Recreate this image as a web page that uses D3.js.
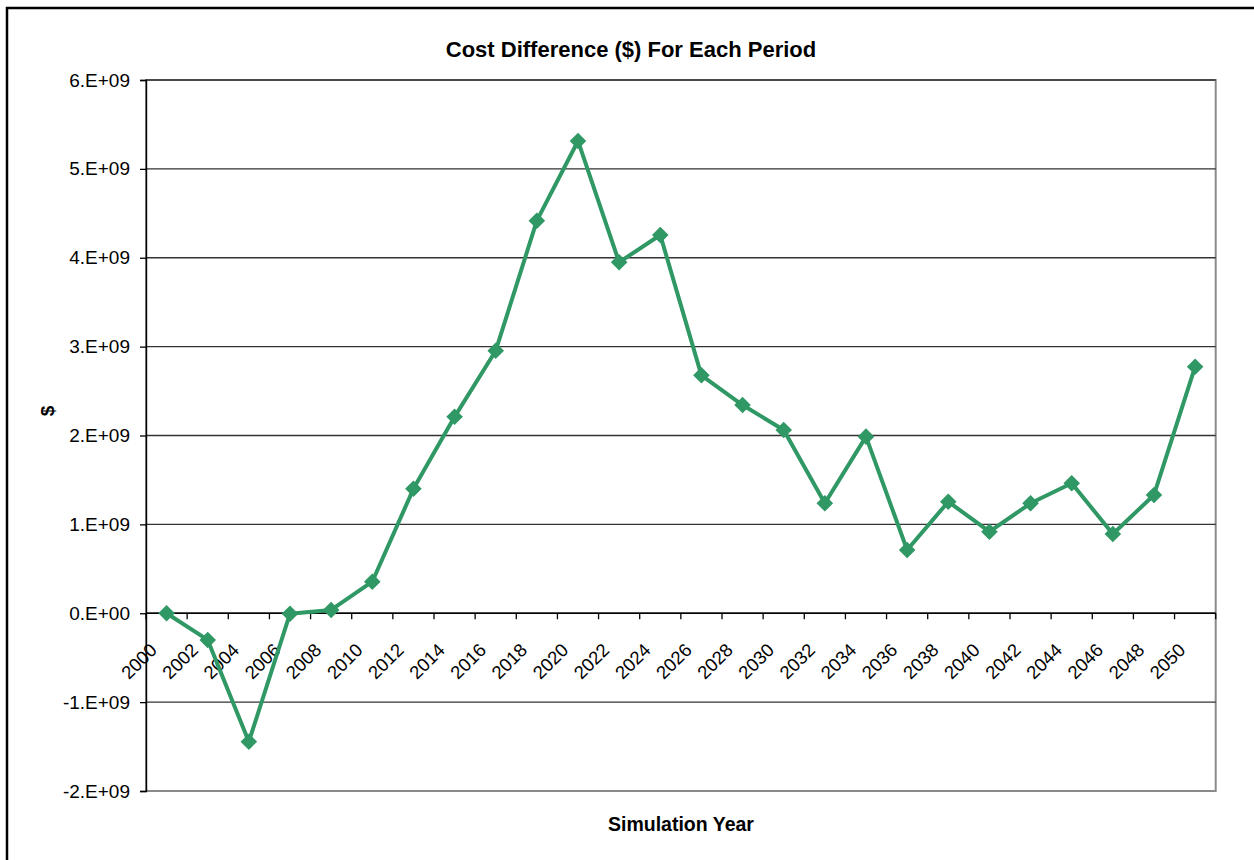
<!DOCTYPE html>
<html>
<head>
<meta charset="utf-8">
<script src="https://cdn.jsdelivr.net/npm/d3@7"></script>
<style>
  html, body { margin: 0; padding: 0; background: #fff; }
  svg { display: block; font-family: "Liberation Sans", Arial, sans-serif; }
</style>
</head>
<body>
<svg id="chart" width="1254" height="860"></svg>
<script>
// Simulation years (category axis)
const years = ["2000","2002","2004","2006","2008","2010","2012","2014","2016","2018",
               "2020","2022","2024","2026","2028","2030","2032","2034","2036","2038",
               "2040","2042","2044","2046","2048","2050"];

// Cost difference per period, in dollars
const costDiff = [0, -0.30e9, -1.445e9, -0.005e9, 0.037e9, 0.355e9, 1.40e9, 2.21e9, 2.954e9, 4.417e9,
                  5.314e9, 3.949e9, 4.256e9, 2.677e9, 2.343e9, 2.062e9, 1.237e9, 1.987e9, 0.712e9, 1.255e9,
                  0.918e9, 1.237e9, 1.462e9, 0.892e9, 1.331e9, 2.774e9];

// Value axis ticks
const yTicks = [-2e9, -1e9, 0, 1e9, 2e9, 3e9, 4e9, 5e9, 6e9];
const yTickLabels = ["-2.E+09","-1.E+09","0.E+00","1.E+09","2.E+09","3.E+09","4.E+09","5.E+09","6.E+09"];

const titleText = "Cost Difference ($) For Each Period";
const xTitle = "Simulation Year";
const yTitle = "$";

const svg = d3.select("#chart");
const plot = { left: 146, right: 1215.7, top: 80, bottom: 791 };
const green = "#2f9865";

// Outer chart frame (extends past the right and bottom of the view)
svg.append("rect")
  .attr("x", 7).attr("y", 8).attr("width", 1400).attr("height", 1000)
  .attr("fill", "#fff").attr("stroke", "#000").attr("stroke-width", 2.5);

const x = d3.scaleBand().domain(years).range([plot.left, plot.right]).paddingInner(0).paddingOuter(0);
const y = d3.scaleLinear().domain([-2e9, 6e9]).range([plot.bottom, plot.top]);
const bw = x.bandwidth();
const cx = d => x(d) + bw / 2;

// Plot area border
svg.append("rect")
  .attr("x", plot.left).attr("y", plot.top)
  .attr("width", plot.right - plot.left).attr("height", plot.bottom - plot.top)
  .attr("fill", "none").attr("stroke", "#8a8a8a").attr("stroke-width", 2);

// Horizontal gridlines
svg.append("g").selectAll("line").data(yTicks.filter(v => v !== -2e9)).join("line")
  .attr("x1", plot.left).attr("x2", plot.right)
  .attr("y1", d => y(d)).attr("y2", d => y(d))
  .attr("stroke", "#333").attr("stroke-width", 1.3);

// Value axis
const yAxis = d3.axisLeft(y).tickValues(yTicks).tickSize(6).tickPadding(10)
  .tickFormat((d, i) => yTickLabels[i]);
const gy = svg.append("g").attr("transform", `translate(${plot.left},0)`).call(yAxis);
gy.select(".domain").attr("stroke", "#000").attr("stroke-width", 1.4);
gy.selectAll(".tick line").attr("stroke", "#000").attr("stroke-width", 1.3);
gy.selectAll(".tick text").attr("font-size", 19).attr("fill", "#000")
  .attr("font-family", "'Liberation Sans', Arial, sans-serif");

// Category axis at zero, ticks between categories
const y0 = y(0);
const gx = svg.append("g");
gx.append("line").attr("x1", plot.left).attr("x2", plot.right)
  .attr("y1", y0).attr("y2", y0).attr("stroke", "#000").attr("stroke-width", 1.4);
gx.selectAll("line.tk").data(years.concat(["end"])).join("line").attr("class", "tk")
  .attr("x1", d => d === "end" ? x.range()[1] : x(d))
  .attr("x2", d => d === "end" ? x.range()[1] : x(d))
  .attr("y1", y0).attr("y2", y0 + 6)
  .attr("stroke", "#000").attr("stroke-width", 1.3);
gx.selectAll("text").data(years).join("text")
  .attr("transform", d => `translate(${cx(d) - 8.5},${y0 + 38}) rotate(-45)`)
  .attr("text-anchor", "end")
  .attr("font-size", 18.5).attr("fill", "#000")
  .text(d => d);

// Series line
const pts = years.map((yr, i) => ({ yr, v: costDiff[i] }));
svg.append("path").datum(pts)
  .attr("fill", "none").attr("stroke", green).attr("stroke-width", 4)
  .attr("stroke-linejoin", "round")
  .attr("d", d3.line().x(d => cx(d.yr)).y(d => y(d.v)));

// Diamond markers
svg.append("g").selectAll("path").data(pts).join("path")
  .attr("transform", d => `translate(${cx(d.yr)},${y(d.v)})`)
  .attr("d", d3.symbol(d3.symbolDiamond2, 175)())
  .attr("fill", green);

// Titles
svg.append("text").attr("x", 631).attr("y", 57).attr("text-anchor", "middle")
  .attr("font-size", 22).attr("font-weight", "bold").text(titleText);
svg.append("text").attr("x", 681).attr("y", 831).attr("text-anchor", "middle")
  .attr("font-size", 19.5).attr("font-weight", "bold").text(xTitle);
svg.append("text").attr("transform", "translate(54,411) rotate(-90)").attr("text-anchor", "middle")
  .attr("font-size", 19).attr("font-weight", "bold").text(yTitle);
</script>
</body>
</html>
